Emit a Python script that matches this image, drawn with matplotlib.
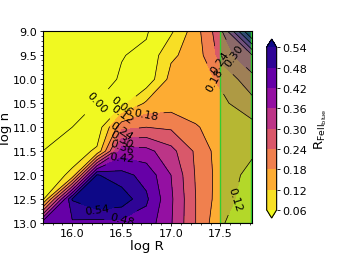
import numpy as np
import matplotlib
matplotlib.use('Agg')
import matplotlib.pyplot as plt
from matplotlib.ticker import AutoMinorLocator

# grid of the model run
log_r = [15.7, 16.0, 16.25, 16.5, 16.75, 17.0, 17.25, 17.5, 17.82]
log_n = [9.0, 9.5, 10.0, 10.5, 11.0, 11.5, 12.0, 12.5, 13.0]

# R_FeII_blue, one row per log n (columns follow log_r)
r_n090 = [-0.05, -0.05, -0.05, -0.02, -0.005, 0.05, 0.155, 0.28, 0.62]
r_n095 = [-0.05, -0.05, -0.04, -0.002, 0.01, 0.11, 0.145, 0.26, 0.355]
r_n100 = [-0.05, -0.04, -0.02, 0.005, 0.02, 0.14, 0.15, 0.19, 0.28]
r_n105 = [-0.04, -0.02, 0.001, 0.04, 0.13, 0.15, 0.15, 0.165, 0.22]
r_n110 = [-0.02, 0.0, 0.02, 0.22, 0.24, 0.23, 0.185, 0.155, 0.16]
r_n115 = [0.0, 0.03, 0.07, 0.39, 0.38, 0.32, 0.23, 0.15, 0.13]
r_n120 = [0.02, 0.073, 0.545, 0.50, 0.46, 0.36, 0.235, 0.155, 0.10]
r_n125 = [0.04, 0.545, 0.60, 0.58, 0.49, 0.37, 0.24, 0.15, 0.085]
r_n130 = [0.45, 0.47, 0.46, 0.46, 0.455, 0.365, 0.24, 0.13, 0.06]

fill_levels = [0.06, 0.12, 0.18, 0.24, 0.30, 0.36, 0.42, 0.48, 0.54]
line_levels = [0.00, 0.06, 0.12, 0.18, 0.24, 0.30, 0.36, 0.42, 0.48, 0.54]

ratio = np.array([r_n090, r_n095, r_n100, r_n105, r_n110,
                  r_n115, r_n120, r_n125, r_n130])

fig = plt.figure(figsize=(3.41, 2.55), dpi=100)
ax = fig.add_axes([0.125, 0.1216, 0.614, 0.7514])

cf = ax.contourf(log_r, log_n, ratio, levels=fill_levels, cmap='plasma_r', extend='both')
cs = ax.contour(log_r, log_n, ratio, levels=line_levels, colors='k', linewidths=0.5)
ax.clabel(cs, fmt='%.2f', fontsize=8)

# excluded region
ax.axvspan(17.5, 17.81, facecolor=(0.2, 0.8, 0.2, 0.35), edgecolor='limegreen', lw=1)

ax.set_xlim(15.7, 17.82)
ax.set_ylim(13.0, 9.0)
ax.set_xticks([16.0, 16.5, 17.0, 17.5])
ax.set_yticks([9.0, 9.5, 10.0, 10.5, 11.0, 11.5, 12.0, 12.5, 13.0])
ax.xaxis.set_minor_locator(AutoMinorLocator())
ax.yaxis.set_minor_locator(AutoMinorLocator())
ax.tick_params(which='major', labelsize=8, length=2.2, pad=1.5, width=0.6)
ax.tick_params(which='minor', length=1.3, width=0.5)
ax.set_xlabel('log R', fontsize=9.5, labelpad=0.5)
ax.set_ylabel('log n', fontsize=9.5)
ax.yaxis.set_label_coords(-0.145, 0.5)

cax = fig.add_axes([0.782, 0.141, 0.0293, 0.702])
cb = fig.colorbar(cf, cax=cax, ticks=fill_levels)
cb.ax.tick_params(labelsize=8, length=2.2, pad=1.8, width=0.6)
cb.set_label(r'$\mathrm{R_{FeII_{blue}}}$', fontsize=9.5, labelpad=4)

fig.savefig('out.png', dpi=100)
